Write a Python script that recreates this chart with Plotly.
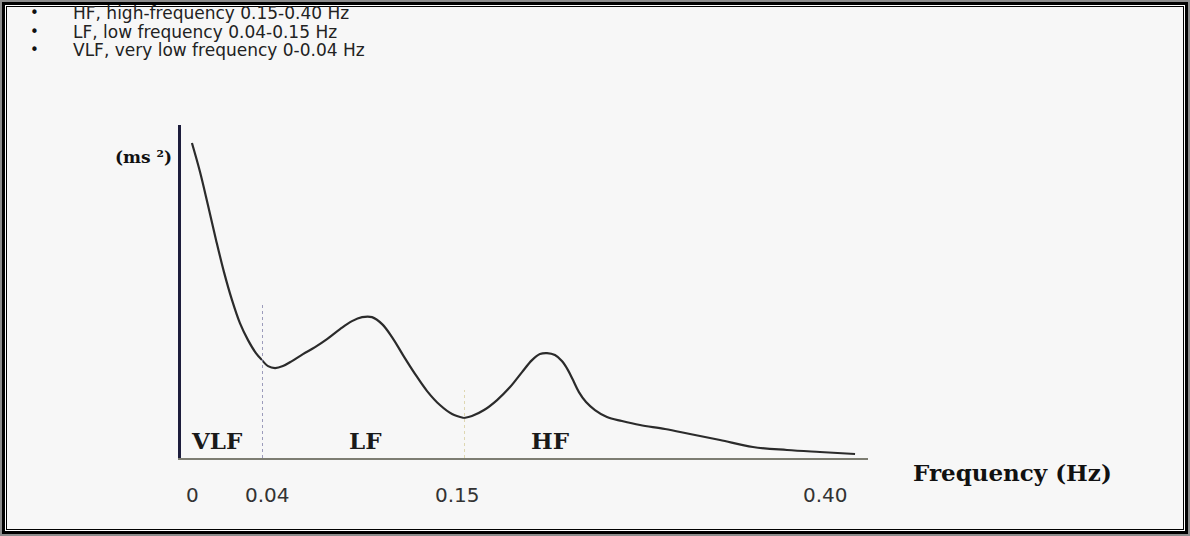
import plotly.graph_objects as go

# ---------------- data ----------------
header_lines = [
    "HF, high-frequency 0.15-0.40 Hz",
    "LF, low frequency 0.04-0.15 Hz",
    "VLF, very low frequency 0-0.04 Hz",
]

band_names = ["VLF", "LF", "HF"]
band_edges = [0.0, 0.04, 0.15, 0.40]
tick_labels = ["0", "0.04", "0.15", "0.40"]

# power spectral density (arbitrary ms^2 units)
vlf_freq = [0.0054, 0.0094, 0.0133, 0.0173, 0.0212, 0.0252, 0.0291, 0.0331, 0.0370, 0.0400]
vlf_power = [94.6, 85.9, 76.0, 65.5, 55.9, 47.4, 40.5, 35.4, 31.5, 29.4]

lf_freq = [0.0400, 0.0433, 0.0471, 0.0514, 0.0563, 0.0623, 0.0689, 0.0754, 0.0825, 0.0890,
           0.0945, 0.0999, 0.1054, 0.1108, 0.1168, 0.1234, 0.1299, 0.1369, 0.1435, 0.1500]
lf_power = [29.4, 27.6, 27.0, 27.6, 29.1, 31.2, 33.3, 35.7, 38.7, 41.1,
            42.3, 42.3, 40.2, 36.3, 30.9, 25.2, 20.1, 15.9, 13.2, 12.0]

hf_freq = [0.1500, 0.1555, 0.1639, 0.1729, 0.1819, 0.1902, 0.1971, 0.2026, 0.2075, 0.2130,
           0.2178, 0.2220, 0.2255, 0.2296, 0.2345, 0.2407, 0.2490, 0.2594, 0.2719, 0.2892,
           0.3065, 0.3273, 0.3501, 0.3737, 0.3965, 0.4208]
hf_power = [12.0, 12.6, 14.4, 17.4, 21.3, 25.8, 29.4, 31.2, 31.5, 30.9,
            29.1, 26.4, 23.4, 19.8, 16.8, 14.4, 12.3, 11.1, 9.9, 8.7,
            7.2, 5.4, 3.3, 2.4, 1.8, 1.2]

# height of the dotted band-boundary markers
boundary_heights = [46.8, 20.4]

# ---------------- figure ----------------
W, H = 1190, 536


def px(x):
    return x / W


def py(y):
    return 1 - y / H


fig = go.Figure()

line_style = dict(color="#2b2b2b", width=2.2, shape="spline", smoothing=1.0)
for fx, fy, xa in [(vlf_freq, vlf_power, "x"), (lf_freq, lf_power, "x2"), (hf_freq, hf_power, "x3")]:
    fig.add_trace(go.Scatter(x=fx, y=fy, mode="lines", line=line_style,
                             xaxis=xa, yaxis="y", hoverinfo="skip", showlegend=False))

axis_common = dict(showgrid=False, zeroline=False, showticklabels=False, ticks="",
                   showline=True, linecolor="#7d7d72", linewidth=2, anchor="y", fixedrange=True)

fig.update_layout(
    width=W, height=H,
    margin=dict(l=0, r=0, t=0, b=0),
    paper_bgcolor="#f7f7f7",
    plot_bgcolor="rgba(0,0,0,0)",
    showlegend=False,
    xaxis=dict(domain=[px(181), px(262)], range=[band_edges[0], band_edges[1]], **axis_common),
    xaxis2=dict(domain=[px(262), px(464)], range=[band_edges[1], band_edges[2]], **axis_common),
    xaxis3=dict(domain=[px(464), px(868)], range=[band_edges[2], band_edges[2] + 404 / 1444], **axis_common),
    yaxis=dict(domain=[py(458), py(125)], range=[0, 100], showgrid=False, zeroline=False,
               showticklabels=False, ticks="", showline=True, linecolor="#1d1d3c",
               linewidth=3, anchor="x", fixedrange=True),
)

# frame (double border)
frame = [
    ("#8c8c8c", 0, 0, W, H),
    ("#000000", 2, 2, W - 2, H - 2),
    ("#ffffff", 5, 5, W - 5, H - 5),
    ("#000000", 6, 6, W - 6, H - 6),
    ("#f7f7f7", 7, 7, W - 7, H - 7),
]
for col, x0, y0, x1, y1 in frame:
    fig.add_shape(type="rect", xref="paper", yref="paper", x0=px(x0), x1=px(x1),
                  y0=py(y1), y1=py(y0), fillcolor=col, line=dict(width=0), layer="below")

# band boundary dotted lines
fig.add_shape(type="line", xref="x2", yref="y", x0=band_edges[1], x1=band_edges[1],
              y0=0, y1=boundary_heights[0], line=dict(color="#7f7fa8", width=1.5, dash="dot"))
fig.add_shape(type="line", xref="x3", yref="y", x0=band_edges[2], x1=band_edges[2],
              y0=0, y1=boundary_heights[1], line=dict(color="#d6cd9a", width=1.5, dash="dot"))

serif_bold = dict(family="DejaVu Serif", size=23, color="#1a1a1a", weight="bold")

# band labels
label_pos = [("x", 0.0178), ("x2", 0.0961), ("x3", 0.2096)]
for name, (xa, xv) in zip(band_names, label_pos):
    fig.add_annotation(text=name, xref=xa, yref="y", x=xv, y=5.2, showarrow=False,
                       font=serif_bold, xanchor="center", yanchor="middle")

# tick labels under the axis
tick_refs = ["x", "x2", "x3", "x3"]
tick_shift = [12, 5, -7, 0]
for lab, ref, val, sh in zip(tick_labels, tick_refs, band_edges, tick_shift):
    fig.add_annotation(text=lab, xref=ref, yref="paper", x=val, y=py(495), xshift=sh,
                       showarrow=False, xanchor="center", yanchor="middle",
                       font=dict(family="DejaVu Sans", size=20, color="#333333"))

# axis titles
fig.add_annotation(text="Frequency (Hz)", xref="paper", yref="paper", x=px(1012), y=py(472),
                   showarrow=False, xanchor="center", yanchor="middle",
                   font=dict(family="DejaVu Serif", size=23, color="#111111", weight="bold"))
fig.add_annotation(text="(ms ²)", xref="paper", yref="paper", x=px(143), y=py(157),
                   showarrow=False, xanchor="center", yanchor="middle",
                   font=dict(family="DejaVu Serif", size=17, color="#111111", weight="bold"))

# header bullet lines
for i, txt in enumerate(header_lines):
    yc = py(13 + i * 18.5)
    fig.add_annotation(text="•", xref="paper", yref="paper", x=px(34), y=yc, showarrow=False,
                       xanchor="center", yanchor="middle",
                       font=dict(family="DejaVu Sans", size=15, color="#111111"))
    fig.add_annotation(text=txt, xref="paper", yref="paper", x=px(72), y=yc, showarrow=False,
                       xanchor="left", yanchor="middle", borderpad=0,
                       font=dict(family="DejaVu Sans", size=17, color="#222222"))

fig.write_html("out.html", config={"displayModeBar": False},
               post_script="document.body.style.margin='0px';")
